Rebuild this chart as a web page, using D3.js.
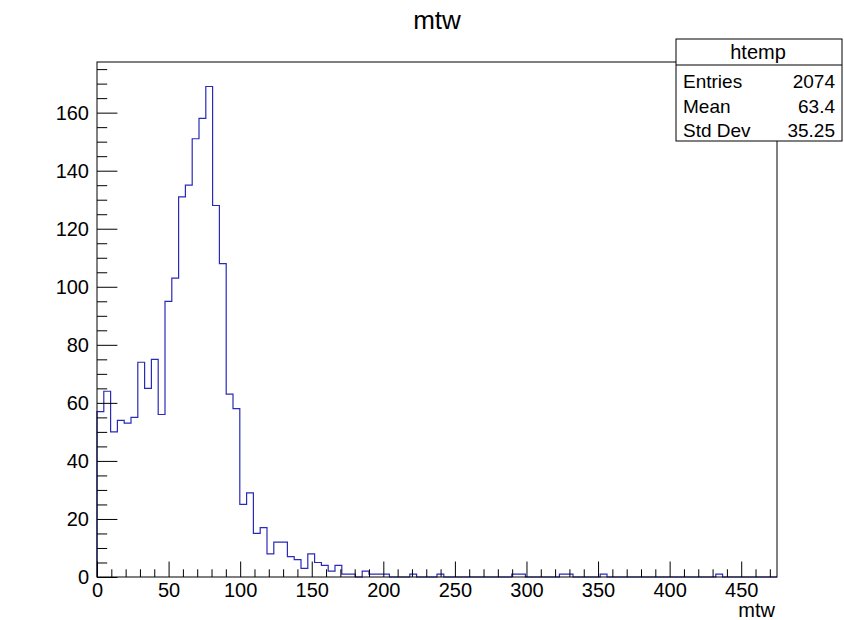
<!DOCTYPE html>
<html lang="en">
<head>
  <meta charset="UTF-8">
  <title>mtw</title>
  <script src="https://d3js.org/d3.v7.min.js"></script>
  <style>
    body { margin: 0; background: #fff; }
    svg text { font-family: "Liberation Sans", Arial, sans-serif; fill: #000; }
  </style>
</head>
<body>
  <div id="chart"></div>
  <script>
    // histogram: 100 bins over [0, 475]
    const xMin = 0, xMax = 475, nBins = 100;
    const counts = [
      57, 64, 50, 54, 53, 55, 74, 65, 75, 56,
      95, 103, 131, 135, 151, 158, 169, 128, 108, 63,
      58, 25, 29, 15, 17, 8, 12, 12, 7, 6,
      3, 8, 5, 4, 2, 4, 1, 1, 0, 2,
      1, 1, 1, 0, 0, 0, 1, 0, 0, 0,
      1, 0, 0, 0, 0, 0, 0, 0, 0, 0,
      0, 1, 1, 0, 0, 0, 0, 0, 1, 1,
      0, 0, 0, 0, 1, 0, 0, 0, 0, 0,
      0, 0, 0, 0, 0, 0, 0, 0, 0, 0,
      0, 1, 0, 0, 0, 0, 0, 0, 0, 0
    ];
    const xMajorTicks = [0, 50, 100, 150, 200, 250, 300, 350, 400, 450];
    const yMajorTicks = [0, 20, 40, 60, 80, 100, 120, 140, 160];
    const statsLabels = ['Entries', 'Mean', 'Std Dev'];
    const statsValues = ['2074', '63.4', '35.25'];

    const width = 844, height = 620;
    const frame = { left: 97, right: 777, top: 62, bottom: 577 };
    const yMax = d3.max(counts) * 1.05;

    const svg = d3.select('#chart').append('svg')
      .attr('width', width)
      .attr('height', height);

    const x = d3.scaleLinear().domain([xMin, xMax]).range([frame.left, frame.right]);
    const y = d3.scaleLinear().domain([0, yMax]).range([frame.bottom, frame.top]);

    const binW = (xMax - xMin) / nBins;
    const xMinor = d3.range(0, xMax + 0.001, 10).filter(v => v % 50 !== 0);
    const yMinor = d3.range(0, yMax, 5).filter(v => v % 20 !== 0);

    // histogram outline
    const pts = [[x(xMin), y(0)]];
    counts.forEach((c, i) => {
      pts.push([x(xMin + i * binW), y(c)]);
      pts.push([x(xMin + (i + 1) * binW), y(c)]);
    });
    pts.push([x(xMax), y(0)]);
    svg.append('path')
      .attr('d', d3.line()(pts))
      .attr('fill', 'none')
      .attr('stroke', '#2a2ab8')
      .attr('stroke-width', 1.2);

    // frame
    svg.append('rect')
      .attr('x', frame.left).attr('y', frame.top)
      .attr('width', frame.right - frame.left)
      .attr('height', frame.bottom - frame.top)
      .attr('fill', 'none')
      .attr('stroke', '#000')
      .attr('stroke-width', 1);

    // x axis
    const xAxis = svg.append('g').attr('transform', `translate(0,${frame.bottom})`);
    xAxis.call(d3.axisBottom(x).tickValues(xMajorTicks).tickSizeInner(-15.5).tickSizeOuter(0).tickPadding(6).tickFormat(d3.format('d')));
    xAxis.append('g').call(d3.axisBottom(x).tickValues(xMinor).tickSizeInner(-7.7).tickSizeOuter(0).tickFormat(''));
    xAxis.selectAll('.domain').remove();
    xAxis.selectAll('text').style('font-size', '20px');

    // y axis
    const yAxis = svg.append('g').attr('transform', `translate(${frame.left},0)`);
    yAxis.call(d3.axisLeft(y).tickValues(yMajorTicks).tickSizeInner(-20.4).tickSizeOuter(0).tickPadding(8).tickFormat(d3.format('d')));
    yAxis.append('g').call(d3.axisLeft(y).tickValues(yMinor).tickSizeInner(-10.2).tickSizeOuter(0).tickFormat(''));
    yAxis.selectAll('.domain').remove();
    yAxis.selectAll('text').style('font-size', '20px');

    // titles
    svg.append('text')
      .attr('x', 437).attr('y', 29)
      .attr('text-anchor', 'middle')
      .style('font-size', '26px')
      .text('mtw');
    svg.append('text')
      .attr('x', 775).attr('y', 617)
      .attr('text-anchor', 'end')
      .style('font-size', '20px')
      .text('mtw');

    // stats box
    const box = { x: 676, y: 39, w: 166, h: 102, head: 26 };
    const stats = svg.append('g');
    stats.append('rect')
      .attr('x', box.x).attr('y', box.y)
      .attr('width', box.w).attr('height', box.h)
      .attr('fill', '#fff').attr('stroke', '#000');
    stats.append('line')
      .attr('x1', box.x).attr('x2', box.x + box.w)
      .attr('y1', box.y + box.head).attr('y2', box.y + box.head)
      .attr('stroke', '#000');
    stats.append('text')
      .attr('x', 758).attr('y', 59)
      .attr('text-anchor', 'middle')
      .style('font-size', '20px')
      .text('htemp');
    statsLabels.forEach((lab, i) => {
      stats.append('text')
        .attr('x', 683).attr('y', 88 + i * 24.5)
        .style('font-size', '19px')
        .text(lab);
      stats.append('text')
        .attr('x', 835).attr('y', 88 + i * 24.5)
        .attr('text-anchor', 'end')
        .style('font-size', '19px')
        .text(statsValues[i]);
    });
  </script>
</body>
</html>
